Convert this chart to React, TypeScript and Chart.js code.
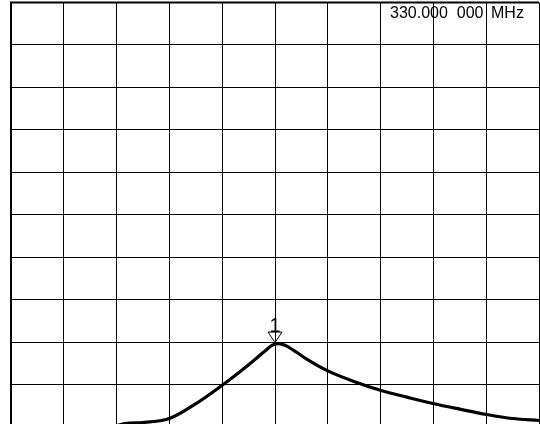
import React, { useEffect, useRef } from "react";
import { Chart, registerables } from "chart.js";

Chart.register(...registerables);

// Trace, in screen divisions (x: 0..10 horizontal, y: 0..10 vertical)
const traceX = [1.8, 2.16, 2.5, 3.0, 3.45, 4.02, 4.53, 4.81, 4.95, 5.07, 5.2, 5.36, 5.6, 6.01, 6.48, 7.01, 7.5, 8.01, 8.5, 9.01, 9.5, 10.0];
const traceY = [-0.05, 0.083, 0.106, 0.2, 0.507, 1.002, 1.498, 1.79, 1.93, 1.965, 1.92, 1.8, 1.6, 1.316, 1.08, 0.861, 0.703, 0.547, 0.42, 0.295, 0.2, 0.153];
const centerLabel = "330.000  000";
const unitLabel = "MHz";
const markerLabel = "1";
const markerX = 5.0;

const overlay = {
  id: "overlay",
  afterDatasetsDraw(chart: any) {
    const { ctx, chartArea } = chart;
    ctx.save();
    // thick left/top frame
    ctx.strokeStyle = "#000";
    ctx.lineWidth = 2;
    ctx.beginPath();
    ctx.moveTo(chartArea.left, chartArea.bottom + 5);
    ctx.lineTo(chartArea.left, chartArea.top);
    ctx.lineTo(chartArea.right, chartArea.top);
    ctx.stroke();

    // marker at peak
    let peak = 0;
    traceY.forEach((v, i) => { if (v > traceY[peak]) peak = i; });
    const px = chart.scales.x.getPixelForValue(markerX);
    const py = chart.scales.y.getPixelForValue(traceY[peak]) - 1;
    ctx.lineWidth = 1;
    ctx.beginPath();
    ctx.moveTo(px - 7, py - 10.5);
    ctx.lineTo(px + 7, py - 10.5);
    ctx.lineTo(px, py);
    ctx.closePath();
    ctx.stroke();
    ctx.fillStyle = "#000";
    ctx.font = "20px 'Liberation Sans', Arial, sans-serif";
    ctx.textAlign = "center";
    ctx.textBaseline = "alphabetic";
    ctx.fillText(markerLabel, px, py - 11);

    // frequency annotation
    ctx.font = "16px 'Liberation Sans', Arial, sans-serif";
    ctx.textAlign = "left";
    ctx.fillText(centerLabel, chartArea.right - 149, chartArea.top + 15);
    ctx.fillText(unitLabel, chartArea.right - 48, chartArea.top + 15);
    ctx.restore();
  },
};

export default function App() {
  const ref = useRef<HTMLCanvasElement>(null);
  useEffect(() => {
    if (!ref.current) return;
    const chart = new Chart(ref.current, {
      type: "line",
      data: {
        datasets: [
          {
            data: traceX.map((x, i) => ({ x, y: traceY[i] })),
            borderColor: "#000",
            borderWidth: 3.2,
            pointRadius: 0,
            cubicInterpolationMode: "monotone",
            fill: false,
          },
        ],
      },
      options: {
        animation: false,
        responsive: false,
        devicePixelRatio: 1,
        layout: { padding: { left: 11, top: 2.5, right: 1, bottom: 0 } },
        plugins: { legend: { display: false }, tooltip: { enabled: false } },
        scales: {
          x: {
            type: "linear",
            min: 0,
            max: 10,
            ticks: { display: false, stepSize: 1 },
            grid: { color: "#000", lineWidth: 1, drawTicks: false },
            border: { display: false },
          },
          y: {
            type: "linear",
            min: 0,
            max: 10,
            ticks: { display: false, stepSize: 1 },
            grid: { color: "#000", lineWidth: 1, drawTicks: false },
            border: { display: false },
          },
        },
      },
      plugins: [overlay],
    });
    return () => chart.destroy();
  }, []);
  return (
    <div style={{ position: "fixed", left: 0, top: 0, width: 540, height: 427, background: "#fff" }}>
      <canvas ref={ref} width={540} height={427} style={{ display: "block" }} />
    </div>
  );
}
